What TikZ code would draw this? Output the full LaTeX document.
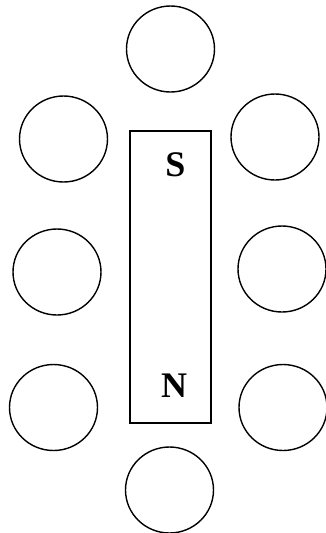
\documentclass[tikz,border=0pt]{standalone}
\usepackage{fontspec}
\setmainfont{Liberation Serif}
\usetikzlibrary{shapes.geometric}
\begin{document}
\begin{tikzpicture}[x=1pt,y=-1pt,
  coil/.style={draw, line width=1.4pt, ellipse, minimum width=88pt, minimum height=86pt, inner sep=0pt},
  magnet/.style={draw, line width=1.4pt, rectangle, minimum width=81pt, minimum height=292pt, inner sep=0pt},
  pole/.style={font=\fontsize{36}{36}\selectfont\bfseries, inner sep=0pt}]
\useasboundingbox (0,0) rectangle (325,533);
\node[magnet] (m) at (170.5,277) {};
\node[pole] (s) at (175.5,165) {S};
\node[pole] (n) at (174,386) {N};
\node[coil] (t) at (170.5,49) {};
\node[coil] (l1) at (63.5,139) {};
\node[coil] (r1) at (275,137) {};
\node[coil] (l2) at (57,272) {};
\node[coil] (r2) at (282,269) {};
\node[coil] (l3) at (53.5,407.5) {};
\node[coil] (r3) at (283,407.5) {};
\node[coil] (b) at (169.5,490) {};
\end{tikzpicture}
\end{document}
